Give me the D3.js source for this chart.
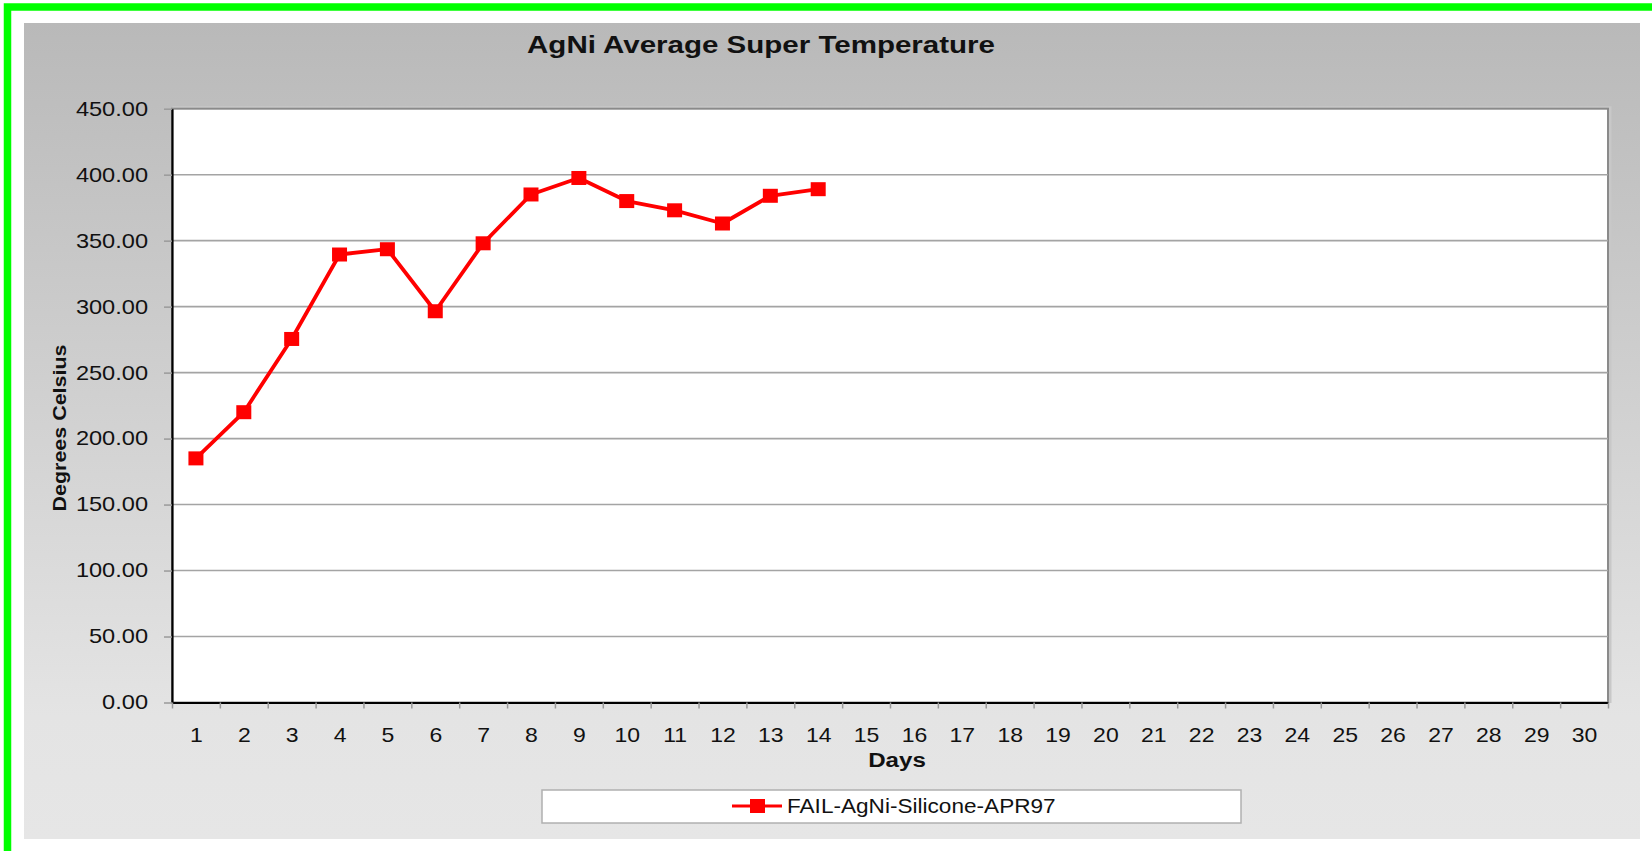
<!DOCTYPE html>
<meta charset='utf-8'>
<style>
  body { margin:0; background:#fff; }
  svg text { font-family:'Liberation Sans', Arial, sans-serif; fill:#111; }
  .grid line { stroke:#a4a4a4; stroke-width:1.6px; }
</style>
<body>
  <script src='https://d3js.org/d3.v7.min.js' charset='utf-8'></script>
  <script>

    var days = d3.range(1, 31);
    var seriesName = 'FAIL-AgNi-Silicone-APR97';
    var temps = [185, 220, 275.5, 339.5, 343.5, 296.5, 348, 385, 397.5, 380, 373, 363, 384, 389];
    var yTicks = [0, 50, 100, 150, 200, 250, 300, 350, 400, 450];

    var width = 1652;
    var height = 851;
    var plot = {left:172, right:1608, top:108.7, bottom:702.5};

    var svg = d3.select('body').append('svg')
      .attr('width', width)
      .attr('height', height);

    // green frame around everything
    svg.append('rect')
      .attr('x', 7.5).attr('y', 7)
      .attr('width', 1700).attr('height', 900)
      .attr('fill', 'none')
      .attr('stroke', '#00ff00')
      .attr('stroke-width', 7.5);

    var grad = svg.append('defs').append('linearGradient')
      .attr('id', 'bg').attr('x1', 0).attr('y1', 0).attr('x2', 0).attr('y2', 1);
    grad.append('stop').attr('offset', '0%').attr('stop-color', '#b9b9b9');
    grad.append('stop').attr('offset', '85%').attr('stop-color', '#e4e4e4');
    grad.append('stop').attr('offset', '100%').attr('stop-color', '#e6e6e6');

    svg.append('rect')
      .attr('x', 24).attr('y', 23)
      .attr('width', 1616).attr('height', 816)
      .attr('fill', 'url(#bg)');

    var x = d3.scaleLinear().domain([0.5, 30.5]).range([plot.left, plot.right]);
    var y = d3.scaleLinear().domain([0, 450]).range([plot.bottom, plot.top]);

    // plot area with grey shadowed top / right edges
    svg.append('rect')
      .attr('x', plot.left + 2).attr('y', plot.top - 1)
      .attr('width', plot.right - plot.left).attr('height', plot.bottom - plot.top)
      .attr('fill', 'none').attr('stroke', '#c8c8c8').attr('stroke-width', 3);
    svg.append('rect')
      .attr('x', plot.left).attr('y', plot.top)
      .attr('width', plot.right - plot.left).attr('height', plot.bottom - plot.top)
      .attr('fill', '#fff').attr('stroke', '#8a8a8a').attr('stroke-width', 2);

    svg.append('g').attr('class', 'grid')
      .selectAll('line')
      .data(yTicks.filter(d => d > 0 && d < 450))
      .enter().append('line')
      .attr('x1', plot.left).attr('x2', plot.right)
      .attr('y1', d => y(d)).attr('y2', d => y(d));

    // y axis
    var yAxis = svg.append('g')
      .attr('transform', 'translate(' + plot.left + ',0)')
      .call(d3.axisLeft(y).tickValues(yTicks).tickFormat(d3.format('.2f')).tickSize(8).tickSizeOuter(0));
    yAxis.select('.domain').attr('stroke', '#000').attr('stroke-width', 2.2);
    yAxis.selectAll('.tick line').attr('stroke', '#9a9a9a').attr('stroke-width', 1.5);
    yAxis.selectAll('.tick text')
      .attr('x', -24 / 1.18)
      .attr('font-size', 20)
      .attr('fill', '#111')
      .attr('transform', 'scale(1.18,1)');

    // x axis: labels at centres, tick marks between days
    var xLabels = svg.append('g')
      .attr('transform', 'translate(0,' + plot.bottom + ')')
      .call(d3.axisBottom(x).tickValues(days).tickSize(0).tickPadding(25).tickSizeOuter(0));
    xLabels.select('.domain').remove();
    xLabels.selectAll('.tick text')
      .attr('font-size', 20)
      .attr('fill', '#111')
      .attr('transform', 'scale(1.15,1)');

    var xMarks = svg.append('g')
      .attr('transform', 'translate(0,' + plot.bottom + ')')
      .call(d3.axisBottom(x).tickValues(days.map(d => d - 0.5).concat([30.5])).tickSize(6).tickFormat('').tickSizeOuter(0));
    xMarks.select('.domain').attr('stroke', '#000').attr('stroke-width', 2.2);
    xMarks.selectAll('.tick line').attr('stroke', '#9a9a9a').attr('stroke-width', 1.5);

    // series
    var line = d3.line()
      .x((d, i) => x(days[i]))
      .y(d => y(d));

    svg.append('path')
      .datum(temps)
      .attr('d', line)
      .attr('fill', 'none')
      .attr('stroke', '#ff0000')
      .attr('stroke-width', 3.8)
      .attr('stroke-linejoin', 'round');

    svg.append('g').selectAll('rect')
      .data(temps)
      .enter().append('rect')
      .attr('x', (d, i) => x(days[i]) - 7.5)
      .attr('y', d => y(d) - 7)
      .attr('width', 15).attr('height', 14)
      .attr('fill', '#ff0000');

    // titles
    svg.append('text')
      .attr('transform', 'translate(761,53) scale(1.23,1)')
      .attr('text-anchor', 'middle')
      .attr('font-size', 24)
      .attr('font-weight', 'bold')
      .text('AgNi Average Super Temperature');

    svg.append('text')
      .attr('transform', 'translate(897,767) scale(1.15,1)')
      .attr('text-anchor', 'middle')
      .attr('font-size', 21)
      .attr('font-weight', 'bold')
      .text('Days');

    svg.append('text')
      .attr('transform', 'translate(66,428) rotate(-90) scale(1.13,1)')
      .attr('text-anchor', 'middle')
      .attr('font-size', 19)
      .attr('font-weight', 'bold')
      .text('Degrees Celsius');

    // legend
    var legend = svg.append('g');
    legend.append('rect')
      .attr('x', 542).attr('y', 790)
      .attr('width', 699).attr('height', 33)
      .attr('fill', '#fff')
      .attr('stroke', '#b0b0b0')
      .attr('stroke-width', 1.5);
    legend.append('line')
      .attr('x1', 732).attr('x2', 782)
      .attr('y1', 806).attr('y2', 806)
      .attr('stroke', '#ff0000').attr('stroke-width', 3);
    legend.append('rect')
      .attr('x', 750).attr('y', 799)
      .attr('width', 15).attr('height', 14)
      .attr('fill', '#ff0000');
    legend.append('text')
      .attr('transform', 'translate(787,813) scale(1.13,1)')
      .attr('font-size', 20)
      .text(seriesName);

  </script>
</body>
